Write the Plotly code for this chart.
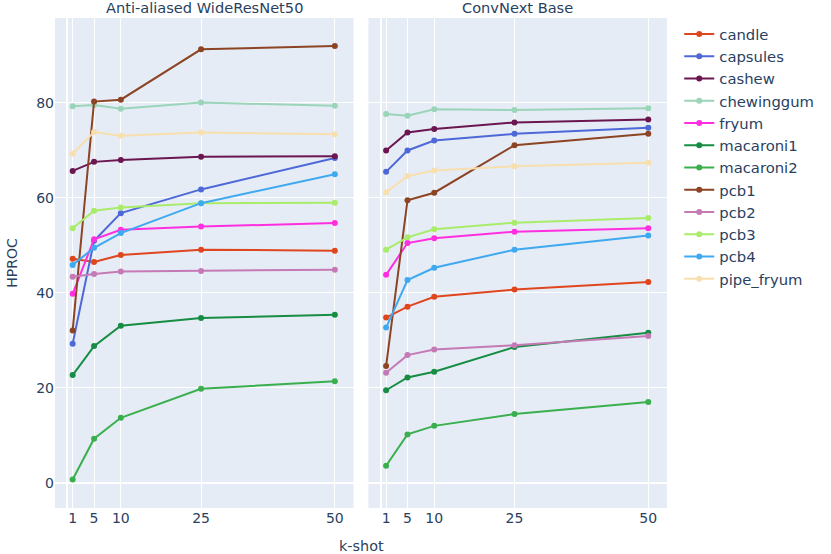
import plotly.graph_objects as go
from plotly.subplots import make_subplots

k_shot = [1, 5, 10, 25, 50]
models = ["Anti-aliased WideResNet50", "ConvNext Base"]
categories = ["candle", "capsules", "cashew", "chewinggum", "fryum", "macaroni1",
              "macaroni2", "pcb1", "pcb2", "pcb3", "pcb4", "pipe_fryum"]
colors = ["#E0461E", "#4E68D8", "#6B1650", "#9AD4B9", "#FF2FE0", "#178C43",
          "#3AAF4E", "#8C4424", "#C57AB6", "#A9EC6A", "#3FA9F0", "#F7DFAE"]

wrn_values = {
    "candle":     [47.2, 46.5, 48.0, 49.1, 48.9],
    "capsules":   [29.3, 51.0, 56.8, 61.8, 68.4],
    "cashew":     [65.7, 67.6, 68.0, 68.7, 68.8],
    "chewinggum": [79.3, 79.6, 78.8, 80.1, 79.4],
    "fryum":      [39.8, 51.3, 53.3, 54.0, 54.7],
    "macaroni1":  [22.7, 28.8, 33.1, 34.7, 35.4],
    "macaroni2":  [0.7, 9.3, 13.7, 19.8, 21.4],
    "pcb1":       [32.1, 80.3, 80.7, 91.3, 92.0],
    "pcb2":       [43.4, 44.0, 44.5, 44.6, 44.9],
    "pcb3":       [53.6, 57.3, 58.0, 58.9, 59.0],
    "pcb4":       [45.9, 49.5, 52.6, 58.9, 65.0],
    "pipe_fryum": [69.3, 73.9, 73.1, 73.8, 73.4],
}
convnext_values = {
    "candle":     [34.8, 37.1, 39.2, 40.7, 42.3],
    "capsules":   [65.5, 70.0, 72.1, 73.5, 74.8],
    "cashew":     [70.0, 73.8, 74.5, 75.9, 76.5],
    "chewinggum": [77.7, 77.3, 78.7, 78.5, 78.9],
    "fryum":      [43.8, 50.5, 51.5, 52.9, 53.6],
    "macaroni1":  [19.5, 22.2, 23.4, 28.6, 31.6],
    "macaroni2":  [3.6, 10.2, 12.0, 14.5, 17.0],
    "pcb1":       [24.6, 59.5, 61.1, 71.1, 73.5],
    "pcb2":       [23.2, 26.9, 28.1, 29.0, 30.9],
    "pcb3":       [49.1, 51.7, 53.4, 54.8, 55.8],
    "pcb4":       [32.7, 42.7, 45.3, 49.1, 52.1],
    "pipe_fryum": [61.2, 64.6, 65.8, 66.7, 67.4],
}

FONT = "DejaVu Sans"

fig = make_subplots(rows=1, cols=2, shared_yaxes=True, subplot_titles=models,
                    horizontal_spacing=0.0243)

for col, data in enumerate([wrn_values, convnext_values], start=1):
    for cat, color in zip(categories, colors):
        fig.add_trace(go.Scatter(
            x=k_shot, y=data[cat], mode="lines+markers", name=cat,
            showlegend=(col == 1),
            line=dict(color=color, width=2), marker=dict(color=color, size=6),
        ), row=1, col=col)

fig.update_xaxes(tickvals=k_shot, range=[-2.3, 53.5], tickfont=dict(size=14))
fig.update_yaxes(range=[-5.3, 97.9], tickfont=dict(size=14))
fig.update_yaxes(title_text="HPROC", title_font=dict(size=14), row=1, col=1)
fig.update_annotations(font=dict(family=FONT, size=14.6))
fig.add_annotation(text="k-shot", xref="paper", yref="paper", x=0.5, y=0,
                   xanchor="center", yanchor="top", yshift=-28, showarrow=False,
                   font=dict(family=FONT, size=14.4))
fig.update_layout(
    template="plotly",
    width=831, height=554,
    font=dict(family=FONT, size=14),
    legend=dict(font=dict(size=14.8)),
    margin=dict(l=55, r=158, t=18, b=46),
)
fig.write_html("out.html", config={"displayModeBar": False},
               post_script="document.body.style.margin='0px';")
